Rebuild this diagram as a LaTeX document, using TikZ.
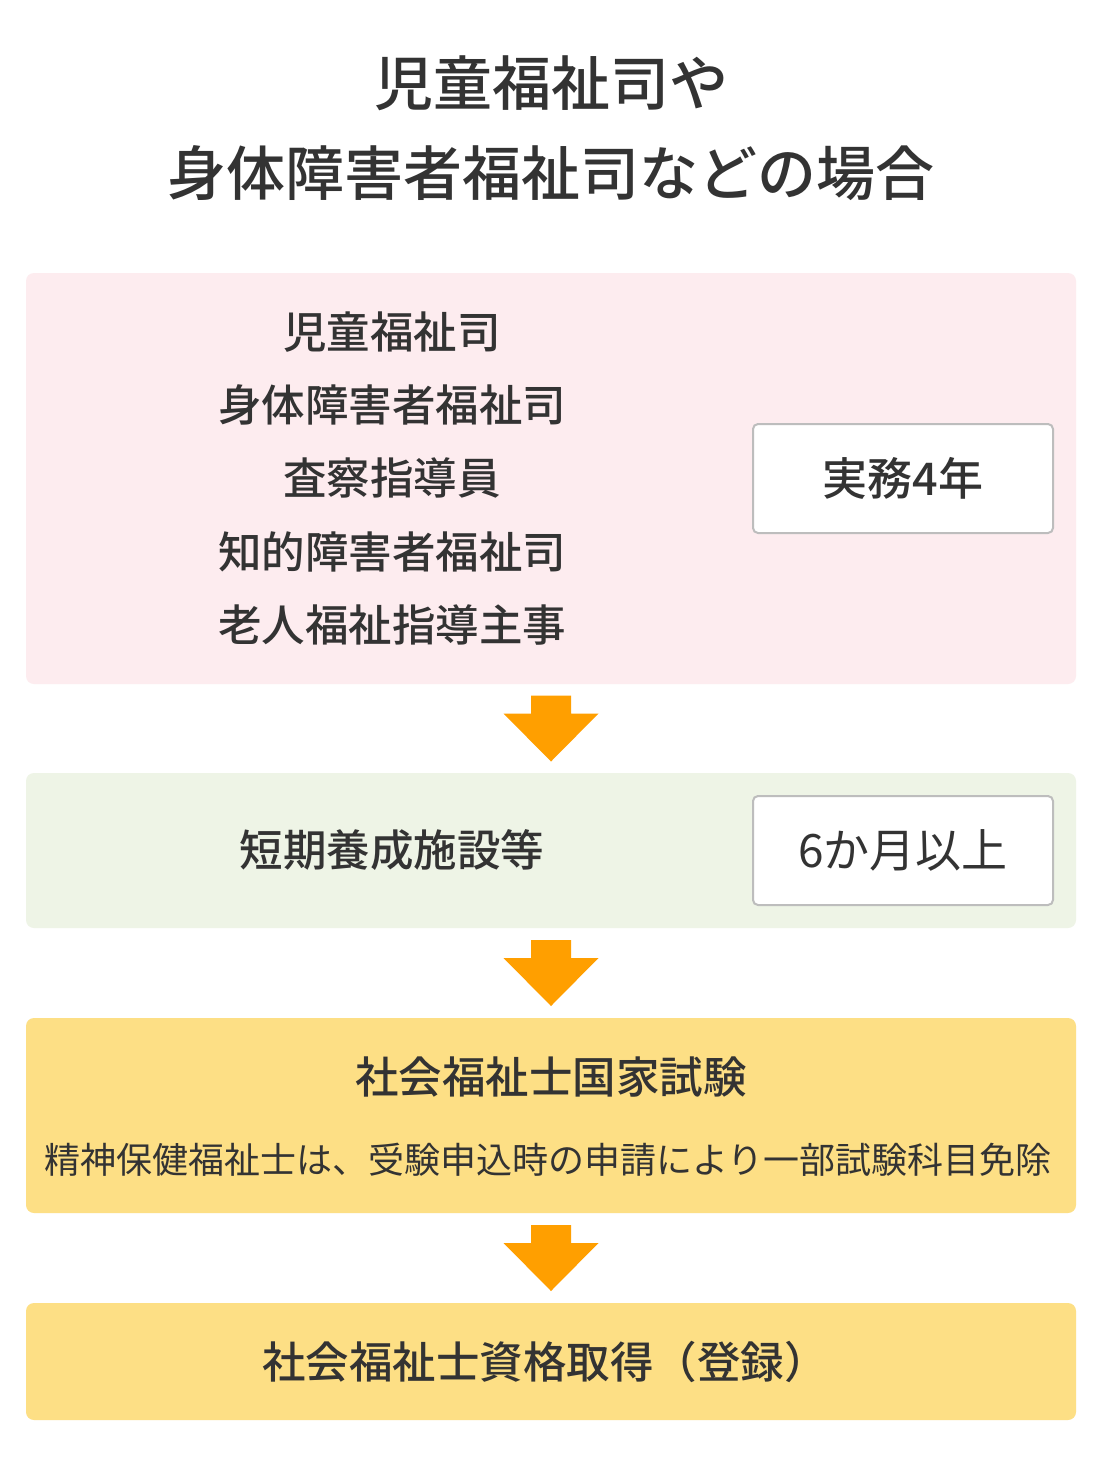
\documentclass[tikz,border=0pt]{standalone}
\usepackage{fontspec}
\usepackage{tikz}
\usetikzlibrary{calc}
\newfontfamily\jp{Noto Sans CJK JP}
\newfontfamily\jpmed{Noto Sans CJK JP Medium}
\definecolor{inkgray}{HTML}{333333}
\definecolor{pinkbg}{HTML}{FDECEF}
\definecolor{greenbg}{HTML}{EEF4E6}
\definecolor{yellowbg}{HTML}{FDDF85}
\definecolor{arroworange}{HTML}{FF9F00}
\definecolor{framegray}{HTML}{BDBDBD}
\tikzset{
    panel/.style = {rounded corners=8pt, inner sep=0pt, minimum width=1050pt},
    tagbox/.style = {draw=framegray, line width=2pt, fill=white, rounded corners=5pt,
        minimum width=300pt, minimum height=109pt, inner sep=0pt,
        font=\jpmed\fontsize{45}{45}\selectfont, text=inkgray},
    item/.style = {font=\jpmed\fontsize{43.5}{43.5}\selectfont, text=inkgray, inner sep=0pt},
    flow/.style = {fill=arroworange}
}
\newcommand{\flowarrow}[2]{%
    \coordinate (#1-#2) at ($(#1.south)!0.5!(#2.north)$);
    \begin{scope}[shift={(#1-#2)}]
        \fill[flow] (-20,-33) -- (20,-33) -- (20,-15) -- (47.5,-15) -- (0,33)
            -- (-47.5,-15) -- (-20,-15) -- cycle;
    \end{scope}}

\begin{document}
\begin{tikzpicture}[x=1pt, y=-1pt]
        \useasboundingbox[fill=white] (0,0) rectangle (1100,1462);
        % title
        \node[font=\jpmed\fontsize{59}{59}\selectfont, text=inkgray] (title1) at (551,83) {児童福祉司や};
        \node[font=\jpmed\fontsize{59}{59}\selectfont, text=inkgray] (title2) at (551,173) {身体障害者福祉司などの場合};
        % boxes
        \node[panel, fill=pinkbg, minimum height=411pt] (pink) at (551,478.5) {};
        \node[panel, fill=greenbg, minimum height=155pt] (green) at (551,850.5) {};
        \node[panel, fill=yellowbg, minimum height=195pt] (exam) at (551,1115.5) {};
        \node[panel, fill=yellowbg, minimum height=117pt] (reg) at (551,1361.5) {};
        \node[item] (a1) at (392,332) {児童福祉司};
        \node[item] (a2) at (392,405) {身体障害者福祉司};
        \node[item] (a3) at (392,478) {査察指導員};
        \node[item] (a4) at (392,552) {知的障害者福祉司};
        \node[item] (a5) at (392,625) {老人福祉指導主事};
        \node[tagbox] (work) at (903,478.5) {実務4年};
        \node[item] (school) at (392,850) {短期養成施設等};
        \node[tagbox, font=\jp\fontsize{46}{46}\selectfont] (term) at (903,850.5) {6か月以上};
        \node[item] (examtitle) at (551,1077) {社会福祉士国家試験};
        \node[item, font=\jp\fontsize{36}{36}\selectfont] (examnote) at (548,1160) {精神保健福祉士は、受験申込時の申請により一部試験科目免除};
        \node[item] (regtitle) at (545,1362) {社会福祉士資格取得（登録）};
        % arrows
        \flowarrow{pink}{green}
        \flowarrow{green}{exam}
        \flowarrow{exam}{reg}
    \end{tikzpicture}
\end{document}
